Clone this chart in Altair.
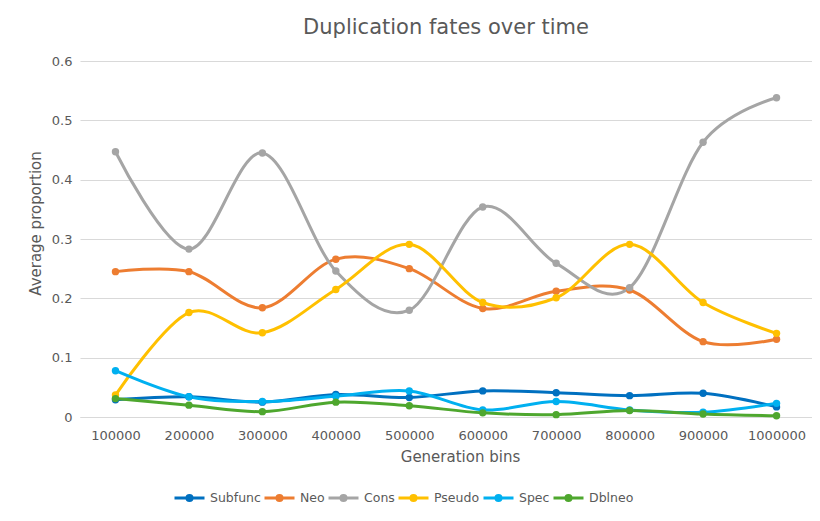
import altair as alt
import pandas as pd

bins = ["100000", "200000", "300000", "400000", "500000",
        "600000", "700000", "800000", "900000", "1000000"]
series_names = ["Subfunc", "Neo", "Cons", "Pseudo", "Spec", "Dblneo"]
colors = ["#0070C0", "#ED7D31", "#A5A5A5", "#FFC000", "#00B0F0", "#4EA72E"]

subfunc = [0.029, 0.034, 0.025, 0.038, 0.033, 0.044, 0.041, 0.036, 0.040, 0.017]
neo     = [0.245, 0.245, 0.184, 0.266, 0.250, 0.183, 0.212, 0.214, 0.127, 0.131]
cons    = [0.447, 0.283, 0.445, 0.246, 0.180, 0.354, 0.259, 0.218, 0.463, 0.538]
pseudo  = [0.037, 0.176, 0.142, 0.215, 0.291, 0.193, 0.201, 0.291, 0.193, 0.141]
spec    = [0.078, 0.034, 0.026, 0.035, 0.044, 0.012, 0.026, 0.012, 0.008, 0.023]
dblneo  = [0.031, 0.020, 0.009, 0.025, 0.019, 0.007, 0.004, 0.011, 0.005, 0.002]

values = [subfunc, neo, cons, pseudo, spec, dblneo]
rows = []
for name, vals in zip(series_names, values):
    for b, v in zip(bins, vals):
        rows.append({"bin": b, "series": name, "value": v})
df = pd.DataFrame(rows)

FONT = "DejaVu Sans"
TXT = "#595959"
legend_symbol = ("M-1,0L1,0M-0.17,0a0.17,0.17 0 1,0 0.34,0"
                 "a0.17,0.17 0 1,0 -0.34,0")

chart = alt.Chart(df).mark_line(
    interpolate="cardinal",
    strokeWidth=3,
    point=alt.OverlayMarkDef(filled=True, size=55, opacity=1),
).encode(
    x=alt.X("bin:O", sort=bins, scale=alt.Scale(type="point", padding=0.483),
            axis=alt.Axis(title="Generation bins", labelAngle=0, ticks=False,
                          grid=False, domain=True, domainColor="#D9D9D9",
                          domainWidth=1, labelPadding=12, labelFontSize=13,
                          labelColor=TXT, labelFont=FONT,
                          titleFontSize=15, titleColor=TXT, titleFont=FONT,
                          titleFontWeight="normal",
                          titleX=380, titleY=44, titleBaseline="alphabetic",
                          titleAlign="center")),
    y=alt.Y("value:Q", scale=alt.Scale(domain=[0, 0.6], nice=False),
            axis=alt.Axis(title="Average proportion",
                          values=[0, 0.1, 0.2, 0.3, 0.4, 0.5, 0.6],
                          format=".1~f", ticks=False, domain=False,
                          gridColor="#D9D9D9", gridWidth=1,
                          labelPadding=8, labelFontSize=13, labelColor=TXT,
                          labelFont=FONT, titleFontSize=15, titleColor=TXT,
                          titleFont=FONT, titleFontWeight="normal",
                          titleAngle=-90, titleX=-45, titleY=162,
                          titleBaseline="middle", titleAlign="center")),
    color=alt.Color("series:N", sort=series_names,
                    scale=alt.Scale(domain=series_names, range=colors),
                    legend=alt.Legend(title=None, orient="none",
                                      direction="horizontal", columns=6,
                                      legendX=93, legendY=420,
                                      symbolType=legend_symbol,
                                      symbolSize=900, symbolStrokeWidth=3,
                                      labelFontSize=12.5, labelColor=TXT,
                                      labelFont=FONT, labelOffset=4,
                                      columnPadding=-3, padding=0)),
    order=alt.Order("series_order:Q"),
).transform_calculate(
    series_order="indexof(%s, datum.series)" % str(series_names)
).properties(
    width=732,
    height=356,
    padding={"left": 72, "top": 53, "right": 0, "bottom": 88},
    autosize=alt.AutoSizeParams(type="none"),
    title=alt.TitleParams("Duplication fates over time", fontSize=21,
                          color=TXT, font=FONT, fontWeight="normal",
                          anchor="middle", baseline="alphabetic", offset=25,
                          dy=25),
).configure(background="white").configure_view(stroke=None)

chart.save("out.html", embed_options={"renderer": "svg", "actions": False})
